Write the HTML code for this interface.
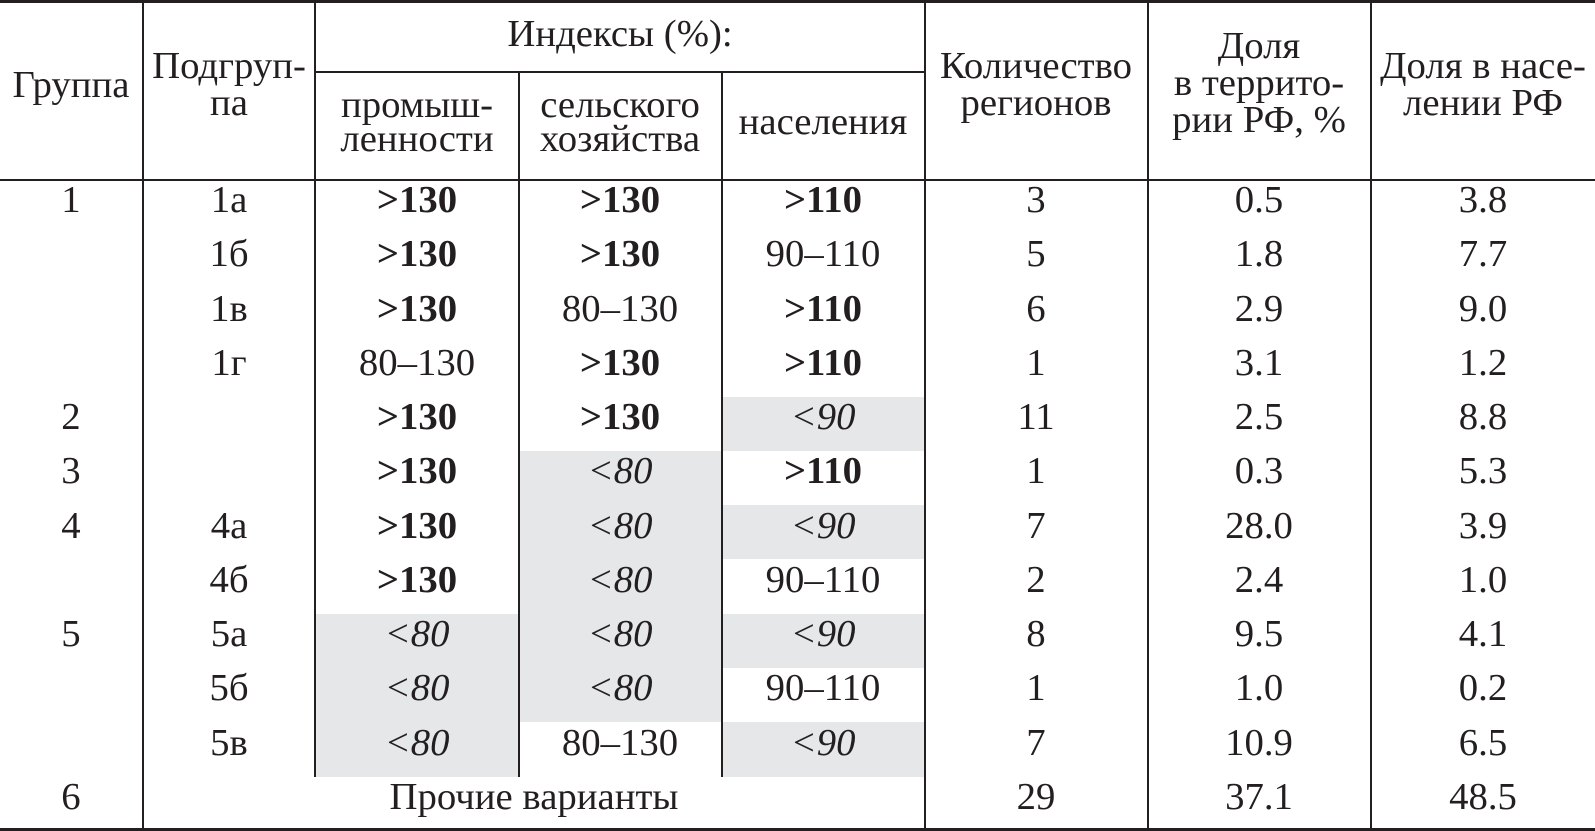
<!DOCTYPE html>
<html><head><meta charset="utf-8"><style>
html,body{margin:0;padding:0;background:#fff}
svg{display:block}
text{font-family:"Liberation Serif",serif;font-size:38px;fill:#231f20;text-anchor:middle}
.b{font-weight:bold}
.i{font-style:italic}
</style></head><body>
<svg width="1595" height="831" viewBox="0 0 1595 831" xmlns="http://www.w3.org/2000/svg">
<g fill="#e6e7e8">
<rect x="722" y="397" width="203" height="54"/>
<rect x="519" y="451" width="203" height="271"/>
<rect x="722" y="505" width="203" height="54"/>
<rect x="315" y="614" width="204" height="163"/>
<rect x="722" y="614" width="203" height="54"/>
<rect x="722" y="722" width="203" height="55"/>
</g>
<g stroke="#231f20" fill="none">
<line x1="0" y1="1.5" x2="1595" y2="1.5" stroke-width="3"/>
<line x1="0" y1="180" x2="1595" y2="180" stroke-width="2"/>
<line x1="0" y1="829.5" x2="1595" y2="829.5" stroke-width="3"/>
<line x1="315" y1="72" x2="925" y2="72" stroke-width="2"/>
<line x1="143" y1="0" x2="143" y2="831" stroke-width="2"/>
<line x1="315" y1="0" x2="315" y2="777" stroke-width="2"/>
<line x1="519" y1="72" x2="519" y2="777" stroke-width="2"/>
<line x1="722" y1="72" x2="722" y2="777" stroke-width="2"/>
<line x1="925" y1="0" x2="925" y2="831" stroke-width="2"/>
<line x1="1148" y1="0" x2="1148" y2="831" stroke-width="2"/>
<line x1="1371" y1="0" x2="1371" y2="831" stroke-width="2"/>
</g>
<g>
<text transform="translate(71,97) scale(1.02,1)">Группа</text>
<text transform="translate(229,78) scale(1.02,1)">Подгруп-</text>
<text transform="translate(229,115) scale(1.02,1)">па</text>
<text transform="translate(620,46) scale(1.02,1)">Индексы (%):</text>
<text transform="translate(417,117) scale(1.02,1)">промыш-</text>
<text transform="translate(417,151) scale(1.02,1)">ленности</text>
<text transform="translate(620,117) scale(1.02,1)">сельского</text>
<text transform="translate(620,151) scale(1.02,1)">хозяйства</text>
<text transform="translate(823,134) scale(1.02,1)">населения</text>
<text transform="translate(1036,78) scale(1.02,1)">Количество</text>
<text transform="translate(1036,115) scale(1.02,1)">регионов</text>
<text transform="translate(1259,58) scale(1.02,1)">Доля</text>
<text transform="translate(1259,95) scale(1.02,1)">в террито-</text>
<text transform="translate(1259,132) scale(1.02,1)">рии РФ, %</text>
<text transform="translate(1483,78) scale(1.02,1)">Доля в насе-</text>
<text transform="translate(1483,115) scale(1.02,1)">лении РФ</text>
</g>
<g>
<text transform="translate(71,212) scale(1.02,1)">1</text><text transform="translate(229,212) scale(1.02,1)">1а</text>
<text class="b" transform="translate(417,212) scale(1.02,1)">&gt;130</text><text class="b" transform="translate(620,212) scale(1.02,1)">&gt;130</text><text class="b" transform="translate(823,212) scale(1.02,1)">&gt;110</text>
<text transform="translate(1036,212) scale(1.02,1)">3</text><text transform="translate(1259,212) scale(1.02,1)">0.5</text><text transform="translate(1483,212) scale(1.02,1)">3.8</text>

<text transform="translate(229,266) scale(1.02,1)">1б</text>
<text class="b" transform="translate(417,266) scale(1.02,1)">&gt;130</text><text class="b" transform="translate(620,266) scale(1.02,1)">&gt;130</text><text transform="translate(823,266) scale(1.02,1)">90–110</text>
<text transform="translate(1036,266) scale(1.02,1)">5</text><text transform="translate(1259,266) scale(1.02,1)">1.8</text><text transform="translate(1483,266) scale(1.02,1)">7.7</text>

<text transform="translate(229,321) scale(1.02,1)">1в</text>
<text class="b" transform="translate(417,321) scale(1.02,1)">&gt;130</text><text transform="translate(620,321) scale(1.02,1)">80–130</text><text class="b" transform="translate(823,321) scale(1.02,1)">&gt;110</text>
<text transform="translate(1036,321) scale(1.02,1)">6</text><text transform="translate(1259,321) scale(1.02,1)">2.9</text><text transform="translate(1483,321) scale(1.02,1)">9.0</text>

<text transform="translate(229,375) scale(1.02,1)">1г</text>
<text transform="translate(417,375) scale(1.02,1)">80–130</text><text class="b" transform="translate(620,375) scale(1.02,1)">&gt;130</text><text class="b" transform="translate(823,375) scale(1.02,1)">&gt;110</text>
<text transform="translate(1036,375) scale(1.02,1)">1</text><text transform="translate(1259,375) scale(1.02,1)">3.1</text><text transform="translate(1483,375) scale(1.02,1)">1.2</text>

<text transform="translate(71,429) scale(1.02,1)">2</text>
<text class="b" transform="translate(417,429) scale(1.02,1)">&gt;130</text><text class="b" transform="translate(620,429) scale(1.02,1)">&gt;130</text><text class="i" transform="translate(823,429) scale(1.02,1)">&lt;90</text>
<text transform="translate(1036,429) scale(1.02,1)">11</text><text transform="translate(1259,429) scale(1.02,1)">2.5</text><text transform="translate(1483,429) scale(1.02,1)">8.8</text>

<text transform="translate(71,483) scale(1.02,1)">3</text>
<text class="b" transform="translate(417,483) scale(1.02,1)">&gt;130</text><text class="i" transform="translate(620,483) scale(1.02,1)">&lt;80</text><text class="b" transform="translate(823,483) scale(1.02,1)">&gt;110</text>
<text transform="translate(1036,483) scale(1.02,1)">1</text><text transform="translate(1259,483) scale(1.02,1)">0.3</text><text transform="translate(1483,483) scale(1.02,1)">5.3</text>

<text transform="translate(71,538) scale(1.02,1)">4</text><text transform="translate(229,538) scale(1.02,1)">4а</text>
<text class="b" transform="translate(417,538) scale(1.02,1)">&gt;130</text><text class="i" transform="translate(620,538) scale(1.02,1)">&lt;80</text><text class="i" transform="translate(823,538) scale(1.02,1)">&lt;90</text>
<text transform="translate(1036,538) scale(1.02,1)">7</text><text transform="translate(1259,538) scale(1.02,1)">28.0</text><text transform="translate(1483,538) scale(1.02,1)">3.9</text>

<text transform="translate(229,592) scale(1.02,1)">4б</text>
<text class="b" transform="translate(417,592) scale(1.02,1)">&gt;130</text><text class="i" transform="translate(620,592) scale(1.02,1)">&lt;80</text><text transform="translate(823,592) scale(1.02,1)">90–110</text>
<text transform="translate(1036,592) scale(1.02,1)">2</text><text transform="translate(1259,592) scale(1.02,1)">2.4</text><text transform="translate(1483,592) scale(1.02,1)">1.0</text>

<text transform="translate(71,646) scale(1.02,1)">5</text><text transform="translate(229,646) scale(1.02,1)">5а</text>
<text class="i" transform="translate(417,646) scale(1.02,1)">&lt;80</text><text class="i" transform="translate(620,646) scale(1.02,1)">&lt;80</text><text class="i" transform="translate(823,646) scale(1.02,1)">&lt;90</text>
<text transform="translate(1036,646) scale(1.02,1)">8</text><text transform="translate(1259,646) scale(1.02,1)">9.5</text><text transform="translate(1483,646) scale(1.02,1)">4.1</text>

<text transform="translate(229,700) scale(1.02,1)">5б</text>
<text class="i" transform="translate(417,700) scale(1.02,1)">&lt;80</text><text class="i" transform="translate(620,700) scale(1.02,1)">&lt;80</text><text transform="translate(823,700) scale(1.02,1)">90–110</text>
<text transform="translate(1036,700) scale(1.02,1)">1</text><text transform="translate(1259,700) scale(1.02,1)">1.0</text><text transform="translate(1483,700) scale(1.02,1)">0.2</text>

<text transform="translate(229,755) scale(1.02,1)">5в</text>
<text class="i" transform="translate(417,755) scale(1.02,1)">&lt;80</text><text transform="translate(620,755) scale(1.02,1)">80–130</text><text class="i" transform="translate(823,755) scale(1.02,1)">&lt;90</text>
<text transform="translate(1036,755) scale(1.02,1)">7</text><text transform="translate(1259,755) scale(1.02,1)">10.9</text><text transform="translate(1483,755) scale(1.02,1)">6.5</text>

<text transform="translate(71,809) scale(1.02,1)">6</text>
<text transform="translate(534,809) scale(1.02,1)">Прочие варианты</text>
<text transform="translate(1036,809) scale(1.02,1)">29</text><text transform="translate(1259,809) scale(1.02,1)">37.1</text><text transform="translate(1483,809) scale(1.02,1)">48.5</text>
</g>
</svg>
</body></html>
